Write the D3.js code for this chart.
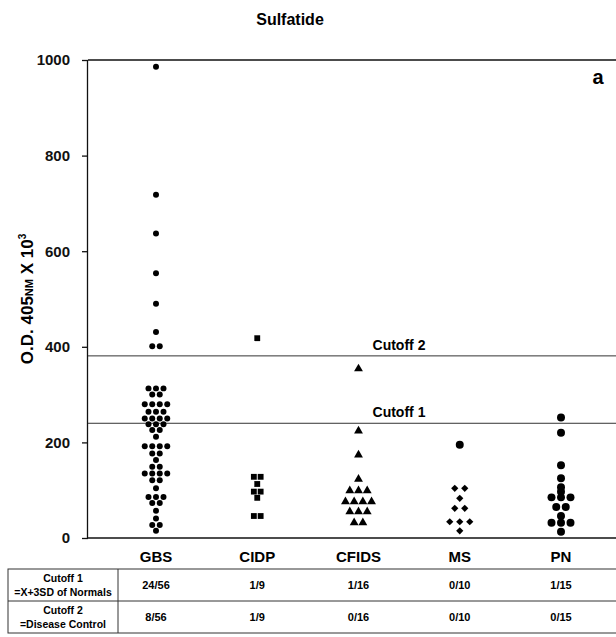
<!DOCTYPE html>
<html>
<head>
<meta charset="utf-8">
<script src="https://cdn.jsdelivr.net/npm/d3@7"></script>
<style>
  body { margin: 0; background: #fff; }
  svg { font-family: "Liberation Sans", Arial, sans-serif; font-weight: bold; }
  .axis path, .axis line { stroke: #111; stroke-width: 1.3; }
  .axis text { font-size: 15px; font-weight: bold; fill: #111; }
</style>
</head>
<body>
<svg id="chart" width="616" height="637"></svg>
<script>
// categories and measured values (O.D. 405nm x 10^3)
const categories = ["GBS", "CIDP", "CFIDS", "MS", "PN"];
const gbsValues = [986, 718, 637, 554, 490, 431, 401, 401,
    313, 313, 313, 300, 300, 280, 280, 280, 280, 264, 264, 264,
    250, 250, 250, 250, 238, 238, 238, 226, 226, 212,
    192, 192, 192, 192, 177, 177, 163, 149, 149,
    135, 135, 135, 135, 121, 121, 104, 86, 86, 86, 73, 73, 57, 41, 27, 27, 15];
const cidpValues = [418, 128, 128, 113, 97, 97, 84, 46, 46];
const cfidsValues = [354, 224, 174, 123, 99, 99, 99, 76, 76, 76, 76, 55, 55, 55, 32, 32];
const msValues = [104, 104, 83, 62, 62, 34, 34, 34, 15];
const msCircleValues = [195]; // drawn as a round dot in the original
const pnValues = [252, 220, 152, 125, 106, 97, 85, 85, 85, 65, 65, 46, 32, 32, 32, 13];
const cutoffs = [
    { name: "Cutoff 1", value: 240 },
    { name: "Cutoff 2", value: 381 }
];
const yTicks = [0, 200, 400, 600, 800, 1000];
const tableRows = [
    { label: ["Cutoff 1", "=X+3SD of Normals"], cells: ["24/56", "1/9", "1/16", "0/10", "1/15"] },
    { label: ["Cutoff 2", "=Disease Control"], cells: ["8/56", "1/9", "0/16", "0/10", "0/15"] }
];

const svg = d3.select("#chart");
const plotLeft = 88, plotRight = 640, plotTop = 60, plotBottom = 538;

const y = d3.scaleLinear().domain([0, 1000]).range([plotBottom, plotTop]);
const x = d3.scalePoint().domain(categories).range([156, 561]);

// 标题
svg.append("text")
    .attr("x", 290).attr("y", 25)
    .attr("text-anchor", "middle")
    .attr("font-size", 16)
    .text("Sulfatide");

svg.append("text")
    .attr("x", 598).attr("y", 84)
    .attr("text-anchor", "middle")
    .attr("font-size", 20)
    .text("a");

// 坐标框
svg.append("line")
    .attr("x1", plotLeft).attr("x2", plotRight)
    .attr("y1", y(1000)).attr("y2", y(1000))
    .attr("stroke", "#111").attr("stroke-width", 1.3);
svg.append("line")
    .attr("x1", plotLeft).attr("x2", plotRight)
    .attr("y1", y(0)).attr("y2", y(0))
    .attr("stroke", "#111").attr("stroke-width", 1.6);

svg.append("g")
    .attr("class", "axis")
    .attr("transform", `translate(${plotLeft},0)`)
    .call(d3.axisLeft(y).tickValues(yTicks).tickFormat(d3.format("d")).tickSize(6).tickPadding(12))
    .call(g => g.select(".domain").attr("d", `M-0.5,${plotTop}V${plotBottom}`));

// y 轴标题
const yTitle = svg.append("text")
    .attr("transform", `translate(33,${(plotTop + plotBottom) / 2}) rotate(-90)`)
    .attr("text-anchor", "middle")
    .attr("font-size", 17);
yTitle.append("tspan").text("O.D. 405");
yTitle.append("tspan").attr("font-size", 11).text("NM");
yTitle.append("tspan").text(" X 10");
yTitle.append("tspan").attr("font-size", 10).attr("dy", -7).text("3");

// cutoff lines
cutoffs.forEach(c => {
    svg.append("line")
        .attr("x1", plotLeft).attr("x2", plotRight)
        .attr("y1", y(c.value)).attr("y2", y(c.value))
        .attr("stroke", "#333").attr("stroke-width", 1);
    svg.append("text")
        .attr("x", 399).attr("y", y(c.value) - 6)
        .attr("text-anchor", "middle")
        .attr("font-size", 14)
        .text(c.name);
});

// 散点（相同数值横向排开）
function swarm(cat, values, symbolType, size, spacing, angle = 0) {
    const rows = d3.group(values, v => v);
    const pts = [];
    rows.forEach((list, v) => {
        list.forEach((_, i) => {
            pts.push({ v, dx: (i - (list.length - 1) / 2) * spacing });
        });
    });
    svg.append("g")
        .selectAll("path")
        .data(pts)
        .enter().append("path")
        .attr("d", d3.symbol().type(symbolType).size(size))
        .attr("transform", d => `translate(${x(cat) + d.dx},${y(d.v)}) rotate(${angle})`)
        .attr("fill", "#000");
}

swarm("GBS", gbsValues, d3.symbolCircle, 28, 7.5);
swarm("CIDP", cidpValues, d3.symbolSquare, 34, 6.8);
swarm("CFIDS", cfidsValues, d3.symbolTriangle, 34, 8.7);
swarm("MS", msValues, d3.symbolSquare, 26, 10, 45);
swarm("MS", msCircleValues, d3.symbolCircle, 50, 10);
swarm("PN", pnValues, d3.symbolCircle, 50, 9.5);

// 类别标签
svg.append("g")
    .selectAll("text")
    .data(categories)
    .enter().append("text")
    .attr("x", d => x(d)).attr("y", 562)
    .attr("text-anchor", "middle")
    .attr("font-size", 15)
    .text(d => d);

// 底部表格
const tableTop = 569, rowH = 32, tableLeft = 8, labelColRight = 118;
svg.append("rect")
    .attr("x", tableLeft).attr("y", tableTop)
    .attr("width", 640).attr("height", rowH * tableRows.length)
    .attr("fill", "none").attr("stroke", "#333").attr("stroke-width", 1);
svg.append("line")
    .attr("x1", tableLeft).attr("x2", 640)
    .attr("y1", tableTop + rowH).attr("y2", tableTop + rowH)
    .attr("stroke", "#333");
svg.append("line")
    .attr("x1", labelColRight).attr("x2", labelColRight)
    .attr("y1", tableTop).attr("y2", tableTop + rowH * tableRows.length)
    .attr("stroke", "#333");

tableRows.forEach((row, r) => {
    const top = tableTop + r * rowH;
    row.label.forEach((t, k) => {
        svg.append("text")
            .attr("x", (tableLeft + labelColRight) / 2)
            .attr("y", top + 13 + k * 14)
            .attr("text-anchor", "middle")
            .attr("font-size", 10.5)
            .text(t);
    });
    row.cells.forEach((t, i) => {
        svg.append("text")
            .attr("x", x(categories[i]))
            .attr("y", top + 20)
            .attr("text-anchor", "middle")
            .attr("font-size", 11)
            .text(t);
    });
});
</script>
</body>
</html>
